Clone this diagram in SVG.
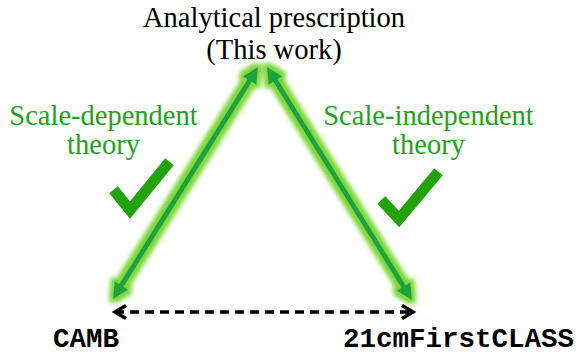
<svg xmlns="http://www.w3.org/2000/svg" width="581" height="355" viewBox="0 0 581 355">
<style>
.title{font-family:"Liberation Serif","Times New Roman",serif;font-size:28.5px;fill:#000;text-anchor:middle}
.glabel{font-family:"Liberation Serif","Times New Roman",serif;font-size:28.5px;fill:#24a11b;text-anchor:middle}
.code{font-family:"Liberation Mono","Courier New",monospace;font-size:27.5px;font-weight:bold;fill:#000}
.garrow{fill:none;stroke:#1ba33f;stroke-width:5;marker-start:url(#gh);marker-end:url(#gh)}
.dash{fill:none;stroke:#000;stroke-width:3.5;stroke-dasharray:9 6;marker-start:url(#bh);marker-end:url(#bh)}
.check{fill:none;stroke:#22a30c;stroke-width:11;stroke-linejoin:miter;stroke-linecap:square}
</style>
<defs>
<filter id="glow" x="-20%" y="-20%" width="140%" height="140%">
<feMorphology in="SourceAlpha" operator="dilate" radius="3.5" result="d"/>
<feGaussianBlur in="d" stdDeviation="2" result="b"/>
<feFlood flood-color="#7ed63a" result="c"/>
<feComposite in="c" in2="b" operator="in" result="g"/>
<feMerge><feMergeNode in="g"/><feMergeNode in="SourceGraphic"/></feMerge>
</filter>
<marker id="gh" viewBox="0 0 16 16" markerWidth="16" markerHeight="16" refX="8" refY="8" orient="auto-start-reverse" markerUnits="userSpaceOnUse" overflow="visible">
<path d="M0,0 L16,8 L0,16 z" fill="#1ba33f"/>
</marker>
<marker id="bh" viewBox="0 0 14 14" markerWidth="14" markerHeight="14" refX="12" refY="7" orient="auto-start-reverse" markerUnits="userSpaceOnUse" overflow="visible">
<path d="M1,0.5 L12,7 L1,13.5" fill="none" stroke="#000" stroke-width="3.5" stroke-linejoin="miter"/>
</marker>
</defs>
<g id="top">
<text class="title" x="274" y="27">Analytical prescription</text>
<text class="title" x="274" y="59">(This work)</text>
</g>
<g id="left-label">
<text class="glabel" x="103.5" y="125">Scale-dependent</text>
<text class="glabel" x="103.5" y="154">theory</text>
<polyline class="check" points="117,194 130,210 166,166"/>
</g>
<g id="right-label">
<text class="glabel" x="428.5" y="125">Scale-independent</text>
<text class="glabel" x="428.5" y="154">theory</text>
<polyline class="check" points="385,204 399,219 435,176"/>
</g>
<g id="camb">
<text class="code" x="53" y="347">CAMB</text>
</g>
<g id="firstclass">
<text class="code" x="343" y="347">21cmFirstCLASS</text>
</g>
<g id="connectors">
<g filter="url(#glow)">
<path class="garrow" d="M117.2,292.2 L253.8,73.8"/>
<path class="garrow" d="M271.2,73.8 L407.8,293.2"/>
</g>
<path class="dash" d="M115,312 L413,312"/>
</g>
</svg>
